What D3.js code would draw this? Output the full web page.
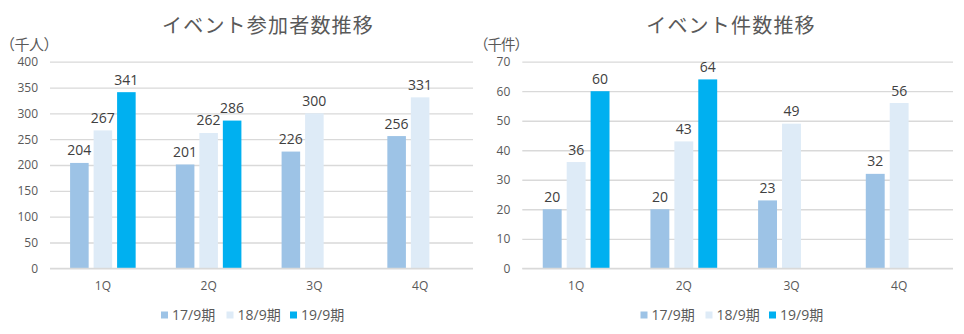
<!DOCTYPE html>
<html>
<head>
<meta charset="utf-8">
<script src="https://cdn.jsdelivr.net/npm/d3@7/dist/d3.min.js"></script>
<style>
  html, body { margin: 0; padding: 0; background: #fff; }
  svg { display: block; }
  text { font-family: "Open Sans", "Noto Sans CJK JP", sans-serif; }
  .cjk { font-family: "Noto Sans CJK JP", sans-serif; }
</style>
</head>
<body>
<svg id="chart" width="964" height="334"></svg>
<script>
// Quarters and fiscal-year series shared by both panels
const quarters = ["1Q", "2Q", "3Q", "4Q"];
const seriesNames = ["17/9期", "18/9期", "19/9期"];
const seriesColors = ["#9DC3E6", "#DEEBF7", "#00B0F0"];

// Event participants (thousands of people) per quarter
const participants17 = [204, 201, 226, 256];
const participants18 = [267, 262, 300, 331];
const participants19 = [341, 286, null, null];
const participantTicks = [0, 50, 100, 150, 200, 250, 300, 350, 400];

// Number of events (thousands) per quarter
const events17 = [20, 20, 23, 32];
const events18 = [36, 43, 49, 56];
const events19 = [60, 64, null, null];
const eventTicks = [0, 10, 20, 30, 40, 50, 60, 70];

const svg = d3.select("#chart");

function drawPanel(cfg) {
  const g = svg.append("g");
  const y = d3.scaleLinear().domain([0, cfg.max]).range([268.3, 61.7]);
  const x0 = d3.scaleBand().domain(quarters)
    .range([cfg.left, cfg.right]).paddingInner(0.38).paddingOuter(0.19);
  const x1 = d3.scaleBand().domain(seriesNames)
    .range([0, x0.bandwidth()]).paddingInner(0.21);

  // Title and unit label
  g.append("text").attr("class", "cjk")
    .attr("x", cfg.titleX).attr("y", 33)
    .attr("text-anchor", "middle")
    .attr("font-size", 20).attr("letter-spacing", 1.2)
    .attr("fill", "#595959")
    .text(cfg.title);
  g.append("text").attr("class", "cjk")
    .attr("x", cfg.unitX).attr("y", 50)
    .attr("font-size", cfg.unitSize).attr("letter-spacing", cfg.unitSpacing)
    .attr("fill", "#595959")
    .text(cfg.unit);

  // Horizontal gridlines with tick labels
  const axis = d3.axisLeft(y).tickValues(cfg.ticks)
    .tickSize(-(cfg.right - cfg.left)).tickPadding(12);
  const ag = g.append("g").attr("transform", `translate(${cfg.left},0)`).call(axis);
  ag.select(".domain").remove();
  ag.selectAll(".tick line").attr("stroke", "#D9D9D9").attr("stroke-width", 1.3);
  ag.selectAll(".tick text")
    .attr("fill", "#595959").attr("font-size", 12)
    .attr("font-family", "'Open Sans', sans-serif");

  // Bars and value labels
  const seriesData = cfg.series;
  seriesNames.forEach((name, si) => {
    const vals = seriesData[si];
    const bars = quarters.map((q, qi) => ({ q, v: vals[qi] })).filter(d => d.v != null);
    g.selectAll(null).data(bars).enter().append("rect")
      .attr("x", d => x0(d.q) + x1(name))
      .attr("y", d => y(d.v))
      .attr("width", x1.bandwidth())
      .attr("height", d => y(0) - y(d.v))
      .attr("fill", seriesColors[si]);
    g.selectAll(null).data(bars).enter().append("text")
      .attr("x", d => x0(d.q) + x1(name) + x1.bandwidth() / 2)
      .attr("y", d => y(d.v) - 7.5)
      .attr("text-anchor", "middle")
      .attr("font-size", 14)
      .attr("fill", "#404040")
      .text(d => d.v);
  });

  // Baseline drawn over the bars
  g.append("line")
    .attr("x1", cfg.left).attr("x2", cfg.right)
    .attr("y1", y(0)).attr("y2", y(0))
    .attr("stroke", "#D9D9D9").attr("stroke-width", 1.3);

  // Category labels
  g.selectAll(null).data(quarters).enter().append("text")
    .attr("x", d => x0(d) + x0.bandwidth() / 2)
    .attr("y", 290)
    .attr("text-anchor", "middle")
    .attr("font-size", 12)
    .attr("fill", "#595959")
    .text(d => d);

  // Legend
  const lg = g.append("g");
  seriesNames.forEach((name, i) => {
    const lx = cfg.legendX[i];
    lg.append("rect").attr("x", lx).attr("y", 311.5)
      .attr("width", 7).attr("height", 7).attr("fill", seriesColors[i]);
    lg.append("text").attr("x", lx + 11).attr("y", 319.5)
      .attr("font-size", 14).attr("fill", "#595959")
      .text(name);
  });
}

drawPanel({
  title: "イベント参加者数推移", titleX: 268, unit: "（千人）", unitX: 0,
  unitSize: 15, unitSpacing: -0.5,
  left: 50, right: 473, max: 400, ticks: participantTicks,
  series: [participants17, participants18, participants19],
  legendX: [161, 226.5, 290]
});

drawPanel({
  title: "イベント件数推移", titleX: 731, unit: "（千件）", unitX: 474,
  unitSize: 14.5, unitSpacing: -1,
  left: 522.3, right: 953, max: 70, ticks: eventTicks,
  series: [events17, events18, events19],
  legendX: [640.5, 705.5, 769]
});
</script>
</body>
</html>
